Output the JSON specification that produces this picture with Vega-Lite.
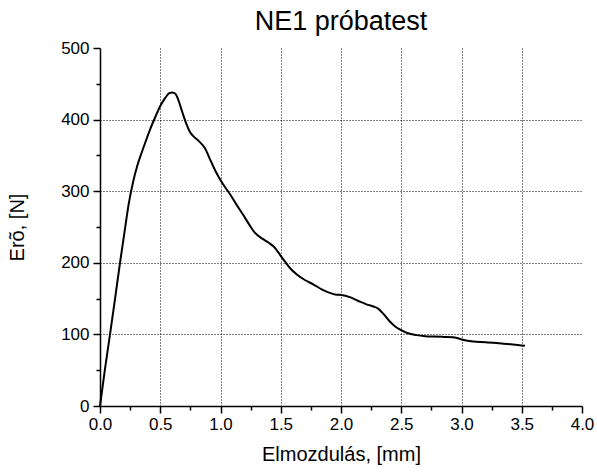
{
  "$schema": "https://vega.github.io/schema/vega-lite/v6.json",
  "width": 482,
  "height": 358,
  "autosize": {"type": "none"},
  "padding": {"left": 100, "top": 48, "right": 15, "bottom": 69},
  "background": "white",
  "title": {"text": "NE1 próbatest", "fontSize": 27, "font": "Liberation Sans", "fontWeight": "normal", "offset": 3, "color": "black"},
  "config": {
    "view": {"stroke": null},
    "axis": {
      "labelFont": "Liberation Sans",
      "titleFont": "Liberation Sans",
      "labelFontSize": 17,
      "titleFontSize": 20,
      "titleFontWeight": "normal",
      "labelColor": "black",
      "titleColor": "black",
      "domainColor": "black",
      "domainWidth": 1.5,
      "tickColor": "black",
      "tickWidth": 1.5,
      "gridColor": "black",
      "gridDash": [1, 2],
      "gridWidth": 1,
      "labelOverlap": false,
      "labelFlush": false
    }
  },
  "data": {
    "values": [
      {"d": 0, "f": 0}, {"d": 0.04, "f": 50}, {"d": 0.083, "f": 100}, {"d": 0.125, "f": 150},
      {"d": 0.166, "f": 200}, {"d": 0.207, "f": 247}, {"d": 0.24, "f": 284}, {"d": 0.276, "f": 314},
      {"d": 0.31, "f": 336}, {"d": 0.346, "f": 354}, {"d": 0.38, "f": 370}, {"d": 0.415, "f": 386},
      {"d": 0.46, "f": 404}, {"d": 0.497, "f": 418}, {"d": 0.54, "f": 430}, {"d": 0.575, "f": 437},
      {"d": 0.6, "f": 438}, {"d": 0.625, "f": 436}, {"d": 0.649, "f": 428}, {"d": 0.68, "f": 412},
      {"d": 0.719, "f": 393}, {"d": 0.745, "f": 383}, {"d": 0.774, "f": 377}, {"d": 0.82, "f": 370},
      {"d": 0.871, "f": 360}, {"d": 0.92, "f": 342}, {"d": 0.968, "f": 325}, {"d": 1.02, "f": 310},
      {"d": 1.078, "f": 296}, {"d": 1.13, "f": 282}, {"d": 1.188, "f": 267}, {"d": 1.24, "f": 253},
      {"d": 1.285, "f": 242}, {"d": 1.354, "f": 233}, {"d": 1.4, "f": 228}, {"d": 1.451, "f": 221},
      {"d": 1.49, "f": 212}, {"d": 1.534, "f": 202}, {"d": 1.58, "f": 192}, {"d": 1.631, "f": 184},
      {"d": 1.7, "f": 176}, {"d": 1.769, "f": 170}, {"d": 1.84, "f": 163}, {"d": 1.907, "f": 158},
      {"d": 1.96, "f": 155.5}, {"d": 2.004, "f": 155}, {"d": 2.073, "f": 152}, {"d": 2.14, "f": 147},
      {"d": 2.211, "f": 142}, {"d": 2.27, "f": 139}, {"d": 2.308, "f": 136}, {"d": 2.35, "f": 129},
      {"d": 2.405, "f": 118}, {"d": 2.45, "f": 111}, {"d": 2.488, "f": 107}, {"d": 2.55, "f": 102},
      {"d": 2.626, "f": 99}, {"d": 2.7, "f": 97.5}, {"d": 2.764, "f": 97}, {"d": 2.85, "f": 96.5},
      {"d": 2.93, "f": 96}, {"d": 2.97, "f": 94.5}, {"d": 3.01, "f": 92.5}, {"d": 3.096, "f": 90},
      {"d": 3.2, "f": 89}, {"d": 3.317, "f": 87.5}, {"d": 3.427, "f": 86}, {"d": 3.527, "f": 84}
    ]
  },
  "mark": {"type": "line", "color": "black", "strokeWidth": 2, "interpolate": "monotone", "strokeJoin": "round"},
  "encoding": {
    "x": {
      "field": "d", "type": "quantitative",
      "scale": {"domain": [0, 4], "nice": false, "zero": false},
      "axis": {
        "title": "Elmozdulás, [mm]",
        "values": [0, 0.25, 0.5, 0.75, 1, 1.25, 1.5, 1.75, 2, 2.25, 2.5, 2.75, 3, 3.25, 3.5, 3.75, 4],
        "labelExpr": "(datum.value * 4) % 2 == 0 ? format(datum.value, '.1f') : ''",
        "tickSize": {"condition": {"test": "(datum.value * 4) % 2 != 0", "value": 4}, "value": 7},
        "gridOpacity": {"condition": {"test": "(datum.value * 4) % 2 != 0 || datum.value == 0 || datum.value == 4", "value": 0}, "value": 1},
        "labelPadding": 3,
        "titlePadding": 12
      }
    },
    "y": {
      "field": "f", "type": "quantitative",
      "scale": {"domain": [0, 500], "nice": false, "zero": false},
      "axis": {
        "title": "Erõ, [N]",
        "values": [0, 50, 100, 150, 200, 250, 300, 350, 400, 450, 500],
        "labelExpr": "datum.value % 100 == 0 ? format(datum.value, 'd') : ''",
        "tickSize": {"condition": {"test": "datum.value % 100 != 0", "value": 4}, "value": 7},
        "gridOpacity": {"condition": {"test": "datum.value % 100 != 0 || datum.value == 0 || datum.value == 500", "value": 0}, "value": 1},
        "labelPadding": 4,
        "titlePadding": 33
      }
    }
  }
}
